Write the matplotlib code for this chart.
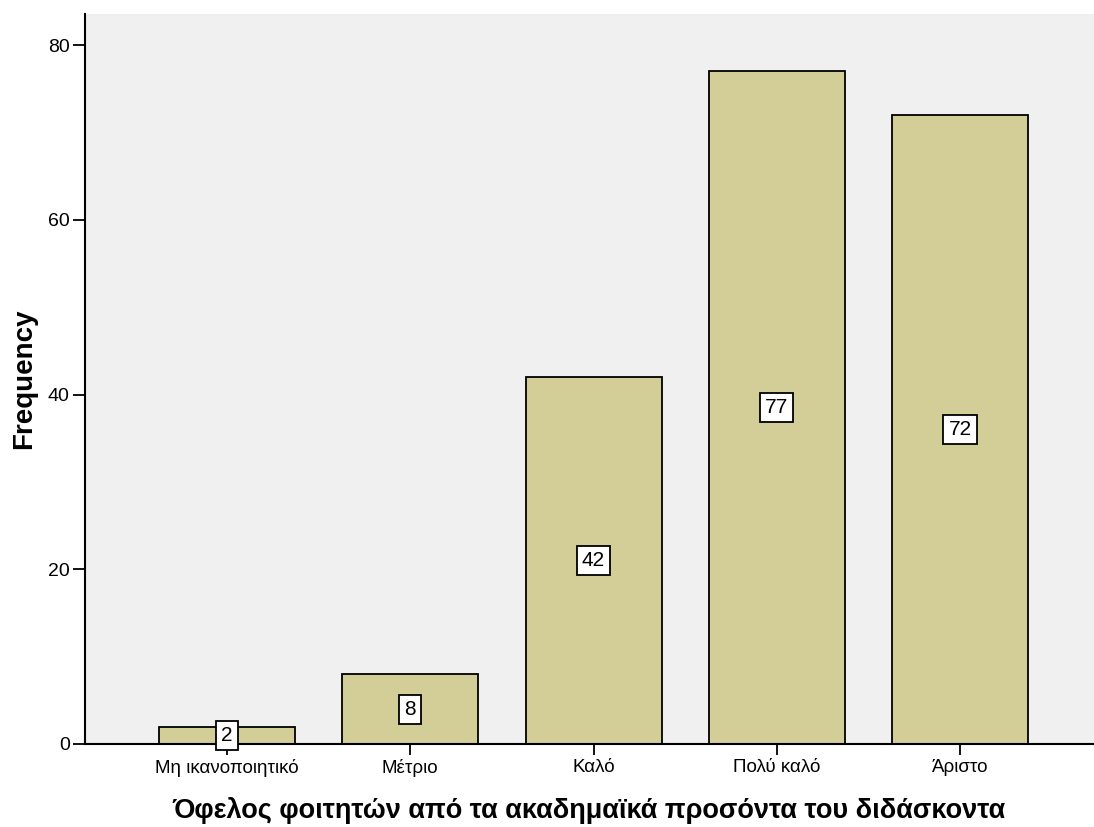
import matplotlib
matplotlib.use("Agg")
import matplotlib.pyplot as plt

categories = ["Μη ικανοποιητικό", "Μέτριο", "Καλό", "Πολύ καλό", "Άριστο"]
frequencies = [2, 8, 42, 77, 72]
y_ticks = [0, 20, 40, 60, 80]

plt.rcParams['font.family'] = ['Liberation Sans', 'DejaVu Sans']

fig = plt.figure(figsize=(10.94, 8.27), dpi=100)
ax = fig.add_axes([85/1094, 1-744/827, 1-85/1094, (744-14)/827])
ax.set_facecolor('#F0F0F0')

x = list(range(len(categories)))
bars = ax.bar(x, frequencies, width=0.742, color='#D3CE97', edgecolor='black', linewidth=1.3, zorder=2)
for xi, v in zip(x, frequencies):
    ax.text(xi, v/2, str(v), ha='center', va='center', fontsize=15, zorder=3,
            bbox=dict(boxstyle='square,pad=0.24', facecolor='white', edgecolor='black', linewidth=1.3))

ax.set_xlim(-0.775, 4.731)
ax.set_ylim(0, 83.55)
ax.set_yticks(y_ticks)
ax.set_xticks(x)
ax.set_xticklabels(categories, fontsize=13.5)
ax.tick_params(axis='y', labelsize=14, length=9, width=1.3, direction='out', pad=2)
ax.tick_params(axis='x', labelsize=13.5, length=8, width=1.3, direction='out', pad=3)
for s in ['top', 'right']:
    ax.spines[s].set_visible(False)
ax.spines['left'].set_linewidth(1.5)
ax.spines['bottom'].set_linewidth(1.5)
ax.set_ylabel('Frequency', fontsize=20, fontweight='bold', labelpad=8)
ax.set_xlabel('Όφελος φοιτητών από τα ακαδημαϊκά προσόντα του διδάσκοντα', fontsize=19.5, fontweight='bold', labelpad=14)

fig.savefig('out.png', dpi=100)
